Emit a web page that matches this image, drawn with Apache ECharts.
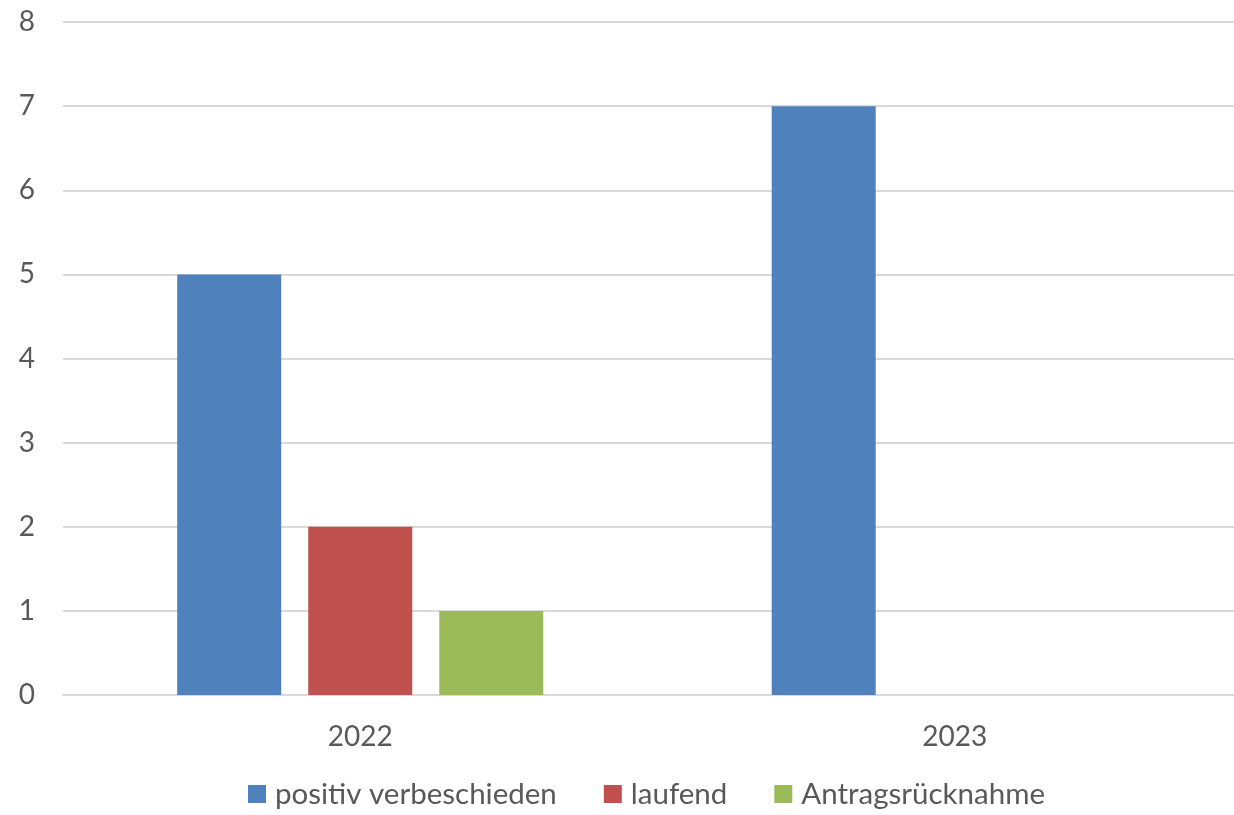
<!DOCTYPE html>
<html>
<head>
<meta charset="utf-8">
<title>Anträge</title>
<script src="https://cdn.jsdelivr.net/npm/echarts@6/dist/echarts.min.js"></script>
<style>
  html, body { margin: 0; padding: 0; background: #fff; overflow: hidden; }
  /* the plot in the original runs past the right edge of the picture */
  #main { width: 1252px; height: 815px; }
</style>
</head>
<body>
<div id="main"></div>
<script type="text/javascript">
// Daten
var years = ['2022', '2023'];
var seriesNames = ['positiv verbeschieden', 'laufend', 'Antragsrücknahme'];
var positivVerbeschieden = [5, 7];
var laufend = [2, 0];
var antragsruecknahme = [1, 0];
var seriesColors = ['#4F81BD', '#C0504D', '#9BBB59'];

var txt = '#595959';
var font = 'Lato, "Open Sans", sans-serif';

var myChart = echarts.init(document.getElementById('main'));

var values = [positivVerbeschieden, laufend, antragsruecknahme];
var series = seriesNames.map(function (n, i) {
    return {
        name: n,
        type: 'bar',
        data: values[i],
        barWidth: 104,
        barGap: '26%',
        itemStyle: { color: seriesColors[i] }
    };
});

var option = {
    animation: false,
    textStyle: { fontFamily: font },
    grid: {
        left: 63,
        right: 0,
        top: 22,
        bottom: 120
    },
    legend: {
        bottom: 1,
        left: 243,
        icon: 'rect',
        itemWidth: 18,
        itemHeight: 18,
        itemGap: 47,
        data: seriesNames,
        textStyle: { color: txt, fontSize: 29.5, fontFamily: font, padding: [0, 0, 0, 4] }
    },
    xAxis: {
        type: 'category',
        data: years,
        axisTick: { show: false },
        axisLine: { lineStyle: { color: '#d9d9d9', width: 2 } },
        axisLabel: { color: txt, fontSize: 28, margin: 28, fontFamily: font }
    },
    yAxis: {
        type: 'value',
        min: 0,
        max: 8,
        interval: 1,
        axisLine: { show: false },
        axisTick: { show: false },
        axisLabel: { color: txt, fontSize: 28, margin: 28, fontFamily: font },
        splitLine: { lineStyle: { color: '#d9d9d9', width: 2 } }
    },
    series: series
};

myChart.setOption(option);
</script>
</body>
</html>
